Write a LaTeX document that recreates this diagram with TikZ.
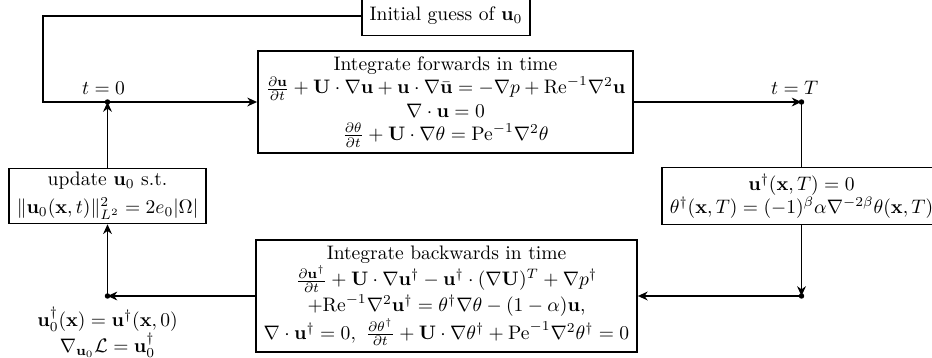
\documentclass[tikz,border=0pt]{standalone}
\usetikzlibrary{arrows.meta}
\begin{document}
\begin{tikzpicture}[x=0.512pt,y=-0.512pt,
  box/.style={draw,thick,align=center,inner xsep=4pt,inner ysep=3pt},
  flow/.style={thick,-{Stealth[length=5pt,width=4.5pt,inset=1.6pt]}},
  link/.style={thick},
  jdot/.style={circle,fill,inner sep=0pt,minimum size=2.8pt},
  tlabel/.style={anchor=south,inner sep=2pt}]
\useasboundingbox (0,0) rectangle (932,358);
% boxes
\node[box,inner ysep=5.5pt] (init) at (446,16) {Initial guess of $\mathbf{u}_0$};
\node[box] (fwd) at (445.5,102) {Integrate forwards in time\\
  $\frac{\partial\mathbf{u}}{\partial t}+\mathbf{U}\cdot\nabla\mathbf{u}+\mathbf{u}\cdot\nabla\bar{\mathbf{u}}=-\nabla p+\mathrm{Re}^{-1}\nabla^2\mathbf{u}$\\
  $\nabla\cdot\mathbf{u}=0$\\
  $\frac{\partial\theta}{\partial t}+\mathbf{U}\cdot\nabla\theta=\mathrm{Pe}^{-1}\nabla^2\theta$};
\node[box] (term) at (801.5,196) {$\mathbf{u}^\dagger(\mathbf{x},T)=0$\\
  $\theta^\dagger(\mathbf{x},T)=(-1)^\beta\alpha\nabla^{-2\beta}\theta(\mathbf{x},T)$};
\node[box] (bwd) at (446.5,296) {Integrate backwards in time\\
  $\frac{\partial\mathbf{u}^\dagger}{\partial t}+\mathbf{U}\cdot\nabla\mathbf{u}^\dagger-\mathbf{u}^\dagger\cdot(\nabla\mathbf{U})^T+\nabla p^\dagger$\\
  $+\mathrm{Re}^{-1}\nabla^2\mathbf{u}^\dagger=\theta^\dagger\nabla\theta-(1-\alpha)\mathbf{u}$,\\
  $\nabla\cdot\mathbf{u}^\dagger=0,~\frac{\partial\theta^\dagger}{\partial t}+\mathbf{U}\cdot\nabla\theta^\dagger+\mathrm{Pe}^{-1}\nabla^2\theta^\dagger=0$};
\node[box,inner ysep=2pt] (upd) at (107.5,196) {update $\mathbf{u}_0$ s.t.\\[2pt]
  $\|\mathbf{u}_0(\mathbf{x},t)\|_{L^2}^2=2e_0|\Omega|$};
% junction dots
\node[jdot] (t0) at (107.5,102) {};
\node[jdot] (tT) at (801.5,102) {};
\node[jdot] (bR) at (801.5,296) {};
\node[jdot] (bL) at (107.5,296) {};
\coordinate (c1) at (43,16);
\coordinate (c2) at (43,102);
% labels
\node[tlabel,xshift=-2pt] (l0) at (t0.north) {$t=0$};
\node[tlabel,xshift=-3.5pt] (lT) at (tT.north) {$t=T$};
\node[anchor=north,align=center,inner sep=4pt] (lg) at (bL.south) {$\mathbf{u}_0^\dagger(\mathbf{x})=\mathbf{u}^\dagger(\mathbf{x},0)$\\
  $\nabla_{\mathbf{u}_0}\mathcal{L}=\mathbf{u}_0^\dagger$};
% connectors
\draw[link] (init.west) -- (c1) -- (c2) -- (t0.center);
\draw[flow] (t0.center) -- (fwd.west);
\draw[flow] (fwd.east) -- (tT.center);
\draw[link] (tT.center) -- (term.north);
\draw[flow] (term.south) -- (bR.center);
\draw[flow] (bR.center) -- (bwd.east);
\draw[flow] (bwd.west) -- (bL.center);
\draw[flow] (bL.center) -- (upd.south);
\draw[flow] (upd.north) -- (t0.center);
\end{tikzpicture}
\end{document}
